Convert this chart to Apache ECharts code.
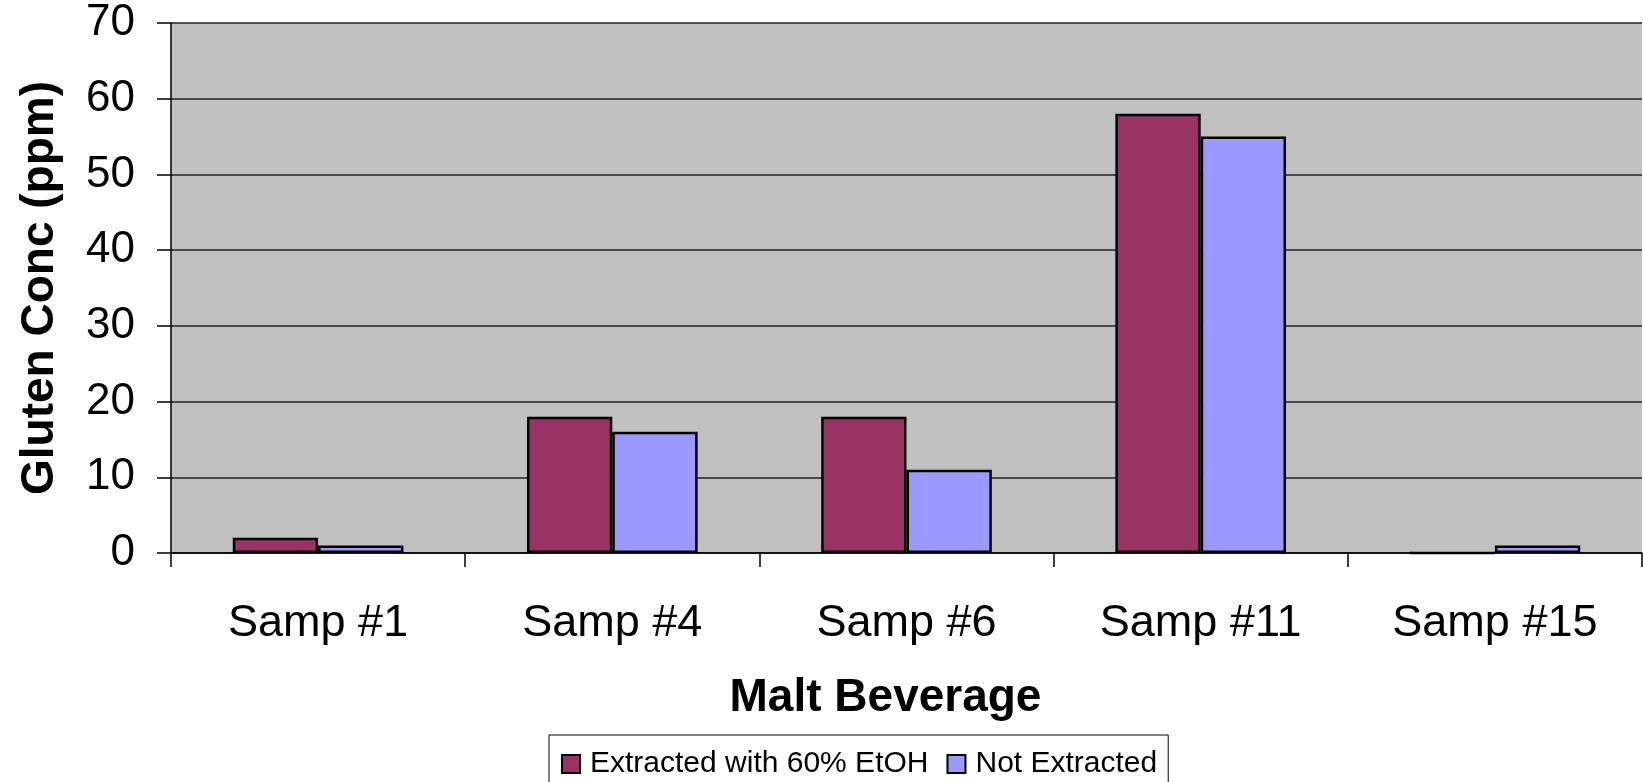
<!DOCTYPE html>
<html>
<head>
<meta charset="utf-8">
<title>Gluten Conc by Malt Beverage</title>
<script src="https://cdn.jsdelivr.net/npm/echarts@6/dist/echarts.min.js"></script>
<style>
  html, body { margin: 0; padding: 0; background: #ffffff; }
  #chart { width: 1643px; height: 782px; }
</style>
</head>
<body>
<div id="chart"></div>
<script>
// Samples measured
const categories = ['Samp #1', 'Samp #4', 'Samp #6', 'Samp #11', 'Samp #15'];

// Gluten concentration (ppm) per sample
const extractedEtOH = [2, 18, 18, 58, 0];
const notExtracted = [1, 16, 11, 55, 1];

// Value axis range
const yMin = 0;
const yMax = 70;
const yStep = 10;

const seriesNames = ['Extracted with 60% EtOH', 'Not Extracted'];
const seriesColors = ['#993366', '#9999FF'];

const FONT = '"Liberation Sans", Arial, sans-serif';

const chart = echarts.init(document.getElementById('chart'), null, { renderer: 'canvas' });

chart.setOption({
  animation: false,
  backgroundColor: '#ffffff',
  textStyle: { fontFamily: FONT, color: '#000' },
  grid: {
    left: 171,
    top: 23,
    right: 1,
    bottom: 229,
    show: true,
    backgroundColor: '#C0C0C0',
    borderWidth: 0,
    containLabel: false
  },
  legend: {
    data: seriesNames,
    left: 549,
    top: 735,
    orient: 'horizontal',
    backgroundColor: '#ffffff',
    borderColor: '#000000',
    borderWidth: 1,
    padding: [14, 11, 24, 12],
    itemWidth: 18,
    itemHeight: 18,
    itemGap: 18,
    icon: 'rect',
    itemStyle: { borderColor: '#000', borderWidth: 2 },
    textStyle: { fontFamily: FONT, fontSize: 30, color: '#000', padding: [0, 0, 0, 5] }
  },
  xAxis: {
    type: 'category',
    data: categories,
    boundaryGap: true,
    name: 'Malt Beverage',
    nameLocation: 'middle',
    nameGap: 122,
    nameTextStyle: {
      fontFamily: FONT, fontSize: 46, fontWeight: 'bold', color: '#000',
      padding: [0, 42, 0, 0]
    },
    axisLine: { show: true, lineStyle: { color: '#000', width: 1.5 } },
    axisTick: { show: true, length: 14, inside: false, alignWithLabel: false, lineStyle: { color: '#000', width: 1.5 } },
    axisLabel: { fontFamily: FONT, fontSize: 45, color: '#000', margin: 48, interval: 0 },
    splitLine: { show: false }
  },
  yAxis: {
    type: 'value',
    min: yMin,
    max: yMax,
    interval: yStep,
    name: 'Gluten Conc (ppm)',
    nameLocation: 'middle',
    nameGap: 108,
    nameRotate: 90,
    nameTextStyle: { fontFamily: FONT, fontSize: 46, fontWeight: 'bold', color: '#000' },
    axisLine: { show: true, lineStyle: { color: '#000', width: 1.5 } },
    axisTick: { show: true, length: 14, inside: false, lineStyle: { color: '#000', width: 1.5 } },
    axisLabel: { fontFamily: FONT, fontSize: 44, color: '#000', margin: 36 },
    splitLine: { show: true, lineStyle: { color: '#222', width: 1.5 } }
  },
  series: [
    {
      name: seriesNames[0],
      type: 'bar',
      data: extractedEtOH,
      barGap: '0%',
      barCategoryGap: '42%',
      itemStyle: { color: seriesColors[0], borderColor: '#000', borderWidth: 2.5 }
    },
    {
      name: seriesNames[1],
      type: 'bar',
      data: notExtracted,
      barGap: '0%',
      barCategoryGap: '42%',
      itemStyle: { color: seriesColors[1], borderColor: '#000', borderWidth: 2.5 }
    }
  ]
});
</script>
</body>
</html>
